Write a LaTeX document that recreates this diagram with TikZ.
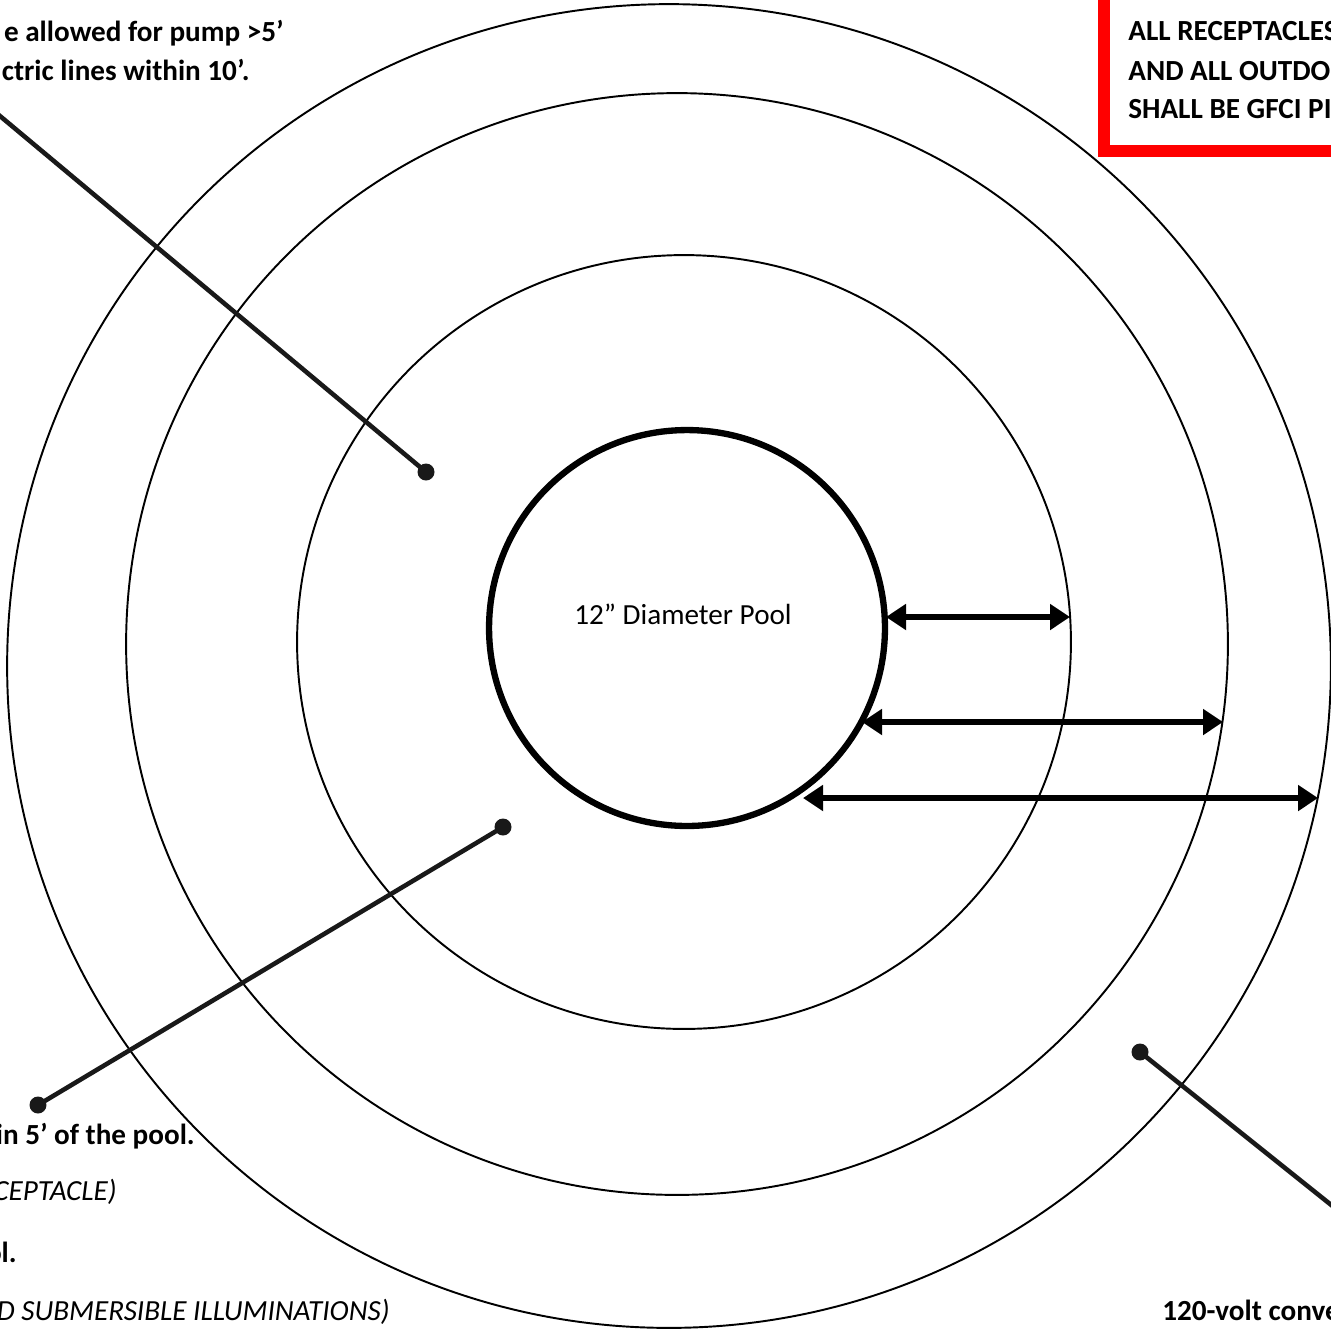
\documentclass[tikz,border=0pt]{standalone}
\usepackage{fontspec}
\setmainfont{Carlito}
\usepackage{xcolor}
\definecolor{gfci-red}{RGB}{255,0,0}
\definecolor{lead-grey}{RGB}{25,25,25}
\usetikzlibrary{arrows.meta}

\begin{document}
\begin{tikzpicture}[x=0.02cm,y=-0.02cm,
	>={Triangle[length=0.4cm,width=0.5cm]},
	txt/.style={font=\fontsize{16.6}{20}\selectfont,inner sep=0pt},
	note/.style={txt,font=\fontsize{16.6}{20}\selectfont\bfseries},
	notei/.style={txt,font=\fontsize{16.6}{20}\selectfont\itshape},
	ring/.style={line width=1.1pt},
	leader/.style={lead-grey,line width=2.6pt},
	dot/.style={circle,fill=lead-grey,inner sep=0pt,minimum size=0.34cm},
	span/.style={<->,line width=3.8pt}]

	\path[use as bounding box,clip] (0,0) rectangle (1331,1330);

	% zones round the pool: 10', 8', 5'
	\foreach \x/\y/\r/\n in 
	{669/666/13.24/ten,677/644/11.02/eight,684/642/7.74/five}{
		\coordinate (\n) at (\x,\y);
		\draw[ring] (\n) circle (\r cm);
	}
	\node[circle,draw,line width=3.6pt,minimum size=7.92cm,inner sep=0pt]
		(pool) at (687,628) {};
	\node[txt] (poolname) at (683,614) {12” Diameter Pool};

	% distances
	\foreach \a/\b/\y/\n in 
	{886/1070/617/five,862/1223/722/eight,803/1318/798/ten}{
		\coordinate (in\n) at (\a,\y);
		\coordinate (out\n) at (\b,\y);
		\draw[span] (in\n) -- (out\n);
	}

	% leaders
	\node[dot] (dotpump) at (426,472) {};
	\node[dot] (dotin) at (503,827) {};
	\node[dot] (dotout) at (38,1105) {};
	\node[dot] (dotconv) at (1140,1052) {};
	\coordinate (endpump) at (-6,111);
	\coordinate (endconv) at (1345,1216);
	\draw[leader] (endpump) -- (dotpump.center);
	\draw[leader] (dotin.center) -- (dotout.center);
	\draw[leader] (dotconv.center) -- (endconv);

	% GFCI box
	\draw[gfci-red,line width=0.24cm] (1104,151) rectangle (1420,-60);
	\path 
		(1128,40)  node[note,anchor=base west] (gfcia) {ALL RECEPTACLES}
		(1128,80)  node[note,anchor=base west] (gfcib) {AND ALL OUTDO}
		(1128,118) node[note,anchor=base west] (gfcic) {SHALL BE GFCI PI};

	% notes
	\path 
		(284,41)   node[note,anchor=base east] (pumpa) {e allowed for pump >5’}
		(250,80)   node[note,anchor=base east] (pumpb) {ctric lines within 10’.}
		(195,1144) node[note,anchor=base east] (ina) {in 5’ of the pool.}
		(117,1200) node[notei,anchor=base east] (inb) {CEPTACLE)}
		(17,1262)  node[note,anchor=base east] (inc) {ol.}
		(390,1320) node[notei,anchor=base east] (ind) {D SUBMERSIBLE ILLUMINATIONS)}
		(1162,1320) node[note,anchor=base west] (conv) {120-volt conve};
\end{tikzpicture}
\end{document}
